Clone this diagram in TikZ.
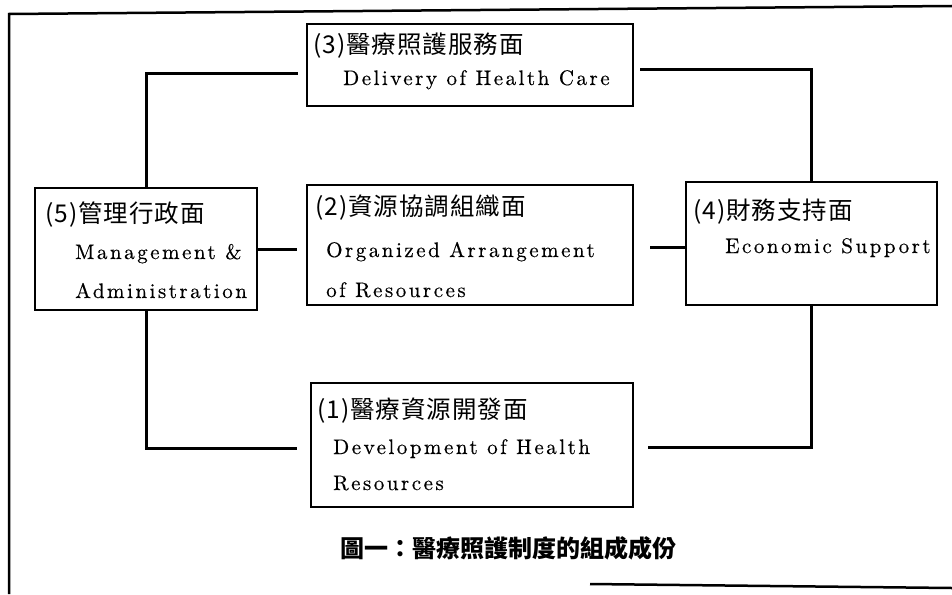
\documentclass[tikz,border=0pt]{standalone}
\usepackage{fontspec}
\newfontfamily\cjk[LetterSpace=4]{Noto Sans CJK TC}
\newfontfamily\cjkcap{Noto Sans CJK TC}
\newfontfamily\enfont[LetterSpace=12,FakeBold=0.4]{lmroman10-regular.otf}
\begin{document}
\begin{tikzpicture}[x=1pt,y=-1pt,
  box/.style={draw, line width=1.3pt, anchor=north west, inner sep=0pt, outer sep=0pt},
  conn/.style={line width=3pt},
  framel/.style={line width=2.5pt},
  cjkline/.style={anchor=base west, inner sep=0pt, font=\cjk\fontsize{24.5}{27}\selectfont},
  enline/.style={anchor=base west, inner sep=0pt, font=\enfont\fontsize{21}{24}\selectfont}]
\useasboundingbox (0,0) rectangle (952,594);
% outer frame
\draw[framel] (952,6) -- (9,14) -- (9,594);
\draw[framel] (590,584) -- (952,588);
% boxes
\node[box, minimum width=326pt, minimum height=82pt] (b3) at (307,24) {};
\node[box, minimum width=222pt, minimum height=122pt] (b5) at (35,188) {};
\node[box, minimum width=326pt, minimum height=120pt] (b2) at (307,185) {};
\node[box, minimum width=251pt, minimum height=123pt] (b4) at (686,182) {};
\node[box, minimum width=322pt, minimum height=124pt] (b1) at (311,383) {};
% texts
\node[cjkline] (t3a) at (313,54) {(3)醫療照護服務面};
\node[enline] (t3b) at (343,85) {Delivery of Health Care};
\node[cjkline] (t5a) at (45,222) {(5)管理行政面};
\node[enline] (t5b) at (75,259) {Management \&};
\node[enline] (t5c) at (75,298) {Administration};
\node[cjkline] (t2a) at (315,215) {(2)資源協調組織面};
\node[enline] (t2b) at (326,257) {Organized Arrangement};
\node[enline] (t2c) at (326,297) {of Resources};
\node[cjkline] (t4a) at (693,219) {(4)財務支持面};
\node[enline] (t4b) at (725,253) {Economic Support};
\node[cjkline] (t1a) at (317,418) {(1)醫療資源開發面};
\node[enline] (t1b) at (333,454) {Development of Health};
\node[enline] (t1c) at (333,490) {Resources};
\node[font=\cjkcap\bfseries\fontsize{24}{28}\selectfont, inner sep=0pt] (cap) at (508,548) {圖一：醫療照護制度的組成成份};
% connectors
\coordinate (t3l) at (298,73);
\coordinate (t3r) at (640,69);
\coordinate (m2l) at (297,249);
\coordinate (m2r) at (650,247);
\coordinate (b1l) at (297,448);
\coordinate (b1r) at (648,447);
\draw[conn] (b5.north) |- (t3l);
\draw[conn] (t3r) -| (b4.north);
\draw[conn] (b5.east) -- (m2l);
\draw[conn] (m2r) -- (m2r -| b4.west);
\draw[conn] (b5.south) |- (b1l);
\draw[conn] (b4.south) |- (b1r);
\end{tikzpicture}
\end{document}
